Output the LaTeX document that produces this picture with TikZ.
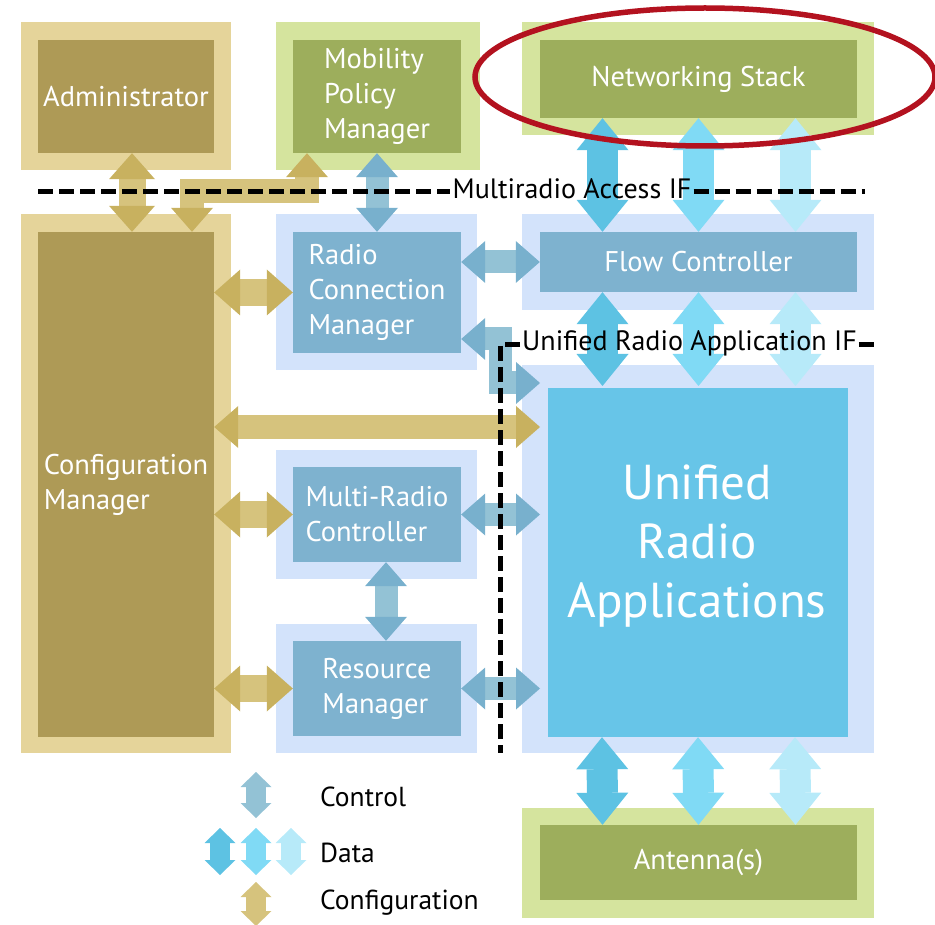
\documentclass[tikz,border=0pt]{standalone}
\usepackage{fontspec}
\setmainfont{PT Sans}
\usetikzlibrary{arrows.meta,calc}
\definecolor{tanOut}{HTML}{E5D49A}
\definecolor{tanIn}{HTML}{AE9A56}
\definecolor{grnOut}{HTML}{D5E49E}
\definecolor{grnIn}{HTML}{9DAE5C}
\definecolor{bluOut}{HTML}{D3E3FB}
\definecolor{bluIn}{HTML}{7EB2CF}
\definecolor{uraIn}{HTML}{67C5E8}
\definecolor{cfgS}{HTML}{D6C37D}
\definecolor{cfgH}{HTML}{C8B15F}
\definecolor{ctlS}{HTML}{93C2D5}
\definecolor{ctlH}{HTML}{78B0CD}
\definecolor{datA}{HTML}{5DC2E3}
\definecolor{datB}{HTML}{80DAF5}
\definecolor{datC}{HTML}{B7EAF9}
\definecolor{ringRed}{HTML}{B3121F}
\tikzset{
  inbox/.style={inner sep=0pt, text=white, align=left, font=\fontsize{28.5pt}{35pt}\selectfont},
  iflabel/.style={inner sep=2pt, text=black, font=\fontsize{28pt}{30pt}\selectfont},
  legtext/.style={inner sep=0pt, text=black, anchor=west, font=\fontsize{27.5pt}{30pt}\selectfont},
  ifline/.style={line width=5pt, black, dash pattern=on 15pt off 6pt},
  cfg/.style={line width=27pt, cfgS, line join=miter,
    {Triangle[length=26pt,width=46pt,line width=0pt,color=cfgH]}-{Triangle[length=26pt,width=46pt,line width=0pt,color=cfgH]}},
  cfgthin/.style={line width=24pt, cfgS, line join=miter,
    {Triangle[length=24pt,width=42pt,line width=0pt,color=cfgH]}-{Triangle[length=24pt,width=42pt,line width=0pt,color=cfgH]}},
  ctl/.style={line width=23pt, ctlS, line join=miter,
    {Triangle[length=24pt,width=42pt,line width=0pt,color=ctlH]}-{Triangle[length=24pt,width=42pt,line width=0pt,color=ctlH]}},
  dat/.style={line width=31pt, #1,
    {Triangle[length=32pt,width=52pt,line width=0pt]}-{Triangle[length=32pt,width=52pt,line width=0pt]}},
  legarr/.style={line width=20pt, #1,
    {Triangle[length=15pt,width=31pt,line width=0pt]}-{Triangle[length=15pt,width=31pt,line width=0pt]}},
}
\begin{document}
\begin{tikzpicture}[x=1pt,y=-1pt]
\useasboundingbox (0,0) rectangle (935,925);
% outer frames
\fill[tanOut] (21,22) rectangle (231,170);
\fill[grnOut] (276,22) rectangle (480,170);
\fill[grnOut] (522,22) rectangle (874,135);
\fill[tanOut] (21,214) rectangle (231,753);
\fill[bluOut] (276,214) rectangle (477,370);
\fill[bluOut] (522,214) rectangle (874,310);
\fill[bluOut] (522,365) rectangle (874,753);
\fill[bluOut] (276,450) rectangle (477,579);
\fill[bluOut] (276,624) rectangle (477,753);
\fill[grnOut] (522,808) rectangle (874,918);
% inner boxes
\node[inbox, fill=tanIn, minimum width=176pt, minimum height=113pt] (admin) at (126,96.5) {Administrator};
\node[inbox, fill=grnIn, minimum width=168pt, minimum height=113pt] (mpm) at (377,96.5) {Mobility\\Policy\\Manager};
\node[inbox, fill=grnIn, minimum width=317pt, minimum height=78pt] (ns) at (698.5,79) {Networking Stack};
\node[inbox, fill=tanIn, minimum width=176pt, minimum height=505pt] (cfgm) at (126,484.5) {Configuration\\Manager};
\node[inbox, fill=bluIn, minimum width=168pt, minimum height=121pt] (rcm) at (377,292.5) {Radio\\Connection\\Manager};
\node[inbox, fill=bluIn, minimum width=317pt, minimum height=60pt] (fc) at (698.5,262) {Flow Controller};
\node[inbox, fill=uraIn, minimum width=300pt, minimum height=349pt] (ura) at (698,562.5) {};
\node[inbox, align=center, font=\fontsize{49pt}{59pt}\selectfont] (uratext) at (697,546) {Unified\\Radio\\Applications};
\node[inbox, fill=bluIn, minimum width=168pt, minimum height=95pt] (mrc) at (377,514.5) {Multi-Radio\\Controller};
\node[inbox, fill=bluIn, minimum width=168pt, minimum height=95pt] (rm) at (377,688.5) {Resource\\Manager};
\node[inbox, fill=grnIn, minimum width=317pt, minimum height=75pt] (ant) at (698.5,862.5) {Antenna(s)};
\coordinate (uraL) at (540,562.5);
% configuration arrows
\draw[cfg] ([xshift=6pt]admin.south) -- ([xshift=6pt]admin.south |- cfgm.north);
\draw[cfgthin] ([xshift=66pt]cfgm.north) -- ++(0,-41) -| ([xshift=-70pt]mpm.south);
\draw[cfg] (cfgm.east |- rcm.west) -- (rcm.west);
\draw[cfgthin] (cfgm.east |- 0,427) -- (uraL |- 0,427);
\draw[cfg] (cfgm.east |- mrc.west) -- (mrc.west);
\draw[cfg] (cfgm.east |- rm.west) -- (rm.west);
% control arrows
\draw[ctl] (mpm.south) -- (rcm.north);
\draw[ctl] (rcm.east |- fc.west) -- (fc.west);
\draw[ctl] (rcm.east |- 0,339) -| (500,383) -- (uraL |- 0,383);
\draw[ctl] (mrc.east) -- (uraL |- mrc.east);
\draw[ctl] ([xshift=9pt]mrc.south) -- ([xshift=9pt]rm.north);
\draw[ctl] (rm.east) -- (uraL |- rm.east);
% data arrows
\draw[dat=datA] ([xshift=-96pt]ns.south) -- ([xshift=-96pt]fc.north);
\draw[dat=datB] (ns.south) -- (fc.north);
\draw[dat=datC] ([xshift=97pt]ns.south) -- ([xshift=97pt]fc.north);
\draw[dat=datA] ([xshift=-96pt]fc.south) -- ([xshift=-96pt]fc.south |- 0,386);
\draw[dat=datB] (fc.south) -- (fc.south |- 0,386);
\draw[dat=datC] ([xshift=97pt]fc.south) -- ([xshift=97pt]fc.south |- 0,386);
\draw[dat=datA] ([xshift=-96pt]ura.south) -- ([xshift=-96pt]ant.north);
\draw[dat=datB] (ura.south) -- (ant.north);
\draw[dat=datC] ([xshift=97pt]ura.south) -- ([xshift=97pt]ant.north);
% interfaces
\node[iflabel] (mai) at (572,189) {Multiradio Access IF};
\draw[ifline] (38,192) -- (mai.west |- 0,192);
\draw[ifline] (mai.east |- 0,192) -- (865,192);
\node[iflabel, anchor=west] (uraif) at (520,343) {Unified Radio Application IF};
\draw[ifline] (uraif.west |- 0,345) -- (500,345) -- (500,753);
\draw[ifline] (uraif.east |- 0,345) -- (875,345);
% legend
\coordinate (lc1) at (256,772); \coordinate (lc2) at (256,818);
\draw[legarr=ctlS] (lc1) -- (lc2);
\coordinate (ld1) at (220,828); \coordinate (ld2) at (220,875);
\coordinate (ld3) at (256,828); \coordinate (ld4) at (256,875);
\coordinate (ld5) at (291,828); \coordinate (ld6) at (291,875);
\draw[legarr=datA] (ld1) -- (ld2);
\draw[legarr=datB] (ld3) -- (ld4);
\draw[legarr=datC] (ld5) -- (ld6);
\coordinate (lf1) at (256,882); \coordinate (lf2) at (256,926);
\draw[legarr=cfgS] (lf1) -- (lf2);
\node[legtext] (lgc) at (320,797) {Control};
\node[legtext] (lgd) at (320,853) {Data};
\node[legtext] (lgf) at (320,903) {Configuration};
% highlight ring
\draw[ringRed, line width=5.5pt] (705,77) ellipse [x radius=230pt, y radius=69pt];
\end{tikzpicture}
\end{document}
